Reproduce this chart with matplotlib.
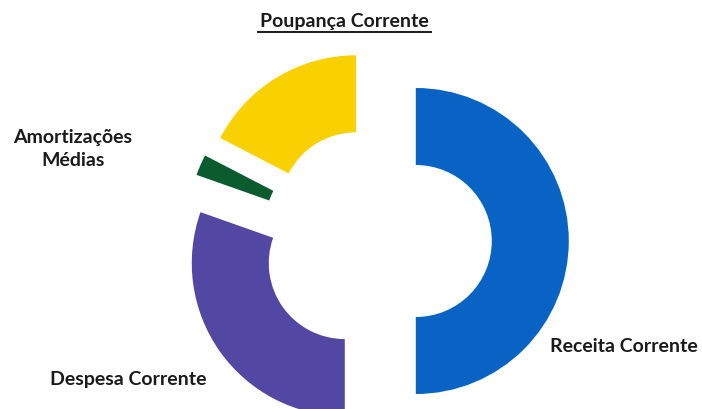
import matplotlib.pyplot as plt

# Dados do gráfico (percentagens)
categorias = ['Receita Corrente', 'Poupança Corrente', 'Amortizações\nMédias', 'Despesa Corrente']
valores = [50.0, 17.4, 2.2, 30.4]
cores = ['#0863C4', '#F9D000', '#0A5C2E', '#5247A3']
afastamento = [0.26, 0.25, 0.25, 0.25]  # fração do raio

W, H = 702, 410
fig = plt.figure(figsize=(W / 100, H / 100), dpi=100)
ax = fig.add_axes([0, 0, 1, 1])

raio = 153
centro = (376, H - 242)
# no pie o explode é em unidades de dados, por isso multiplica-se pelo raio
ax.pie(valores, colors=cores, explode=[a * raio for a in afastamento], startangle=-90,
       counterclock=True, center=centro, radius=raio,
       wedgeprops=dict(width=77, linewidth=0))

ax.set_xlim(0, W)
ax.set_ylim(0, H)
ax.set_aspect('equal')
ax.axis('off')

fonte = dict(family=['Lato', 'DejaVu Sans'], fontweight='bold', fontsize=14, color='#1a1a1a')
ax.text(344, H - 21, categorias[1], ha='center', va='center', **fonte)
ax.plot([258, 431], [H - 33, H - 33], color='#1a1a1a', lw=1.4)
ax.text(73, H - 149, categorias[2], ha='center', va='center', linespacing=1.4, **fonte)
ax.text(128, H - 380, categorias[3], ha='center', va='center', **fonte)
ax.text(624, H - 347, categorias[0], ha='center', va='center', **fonte)

fig.savefig('out.png', dpi=100)
